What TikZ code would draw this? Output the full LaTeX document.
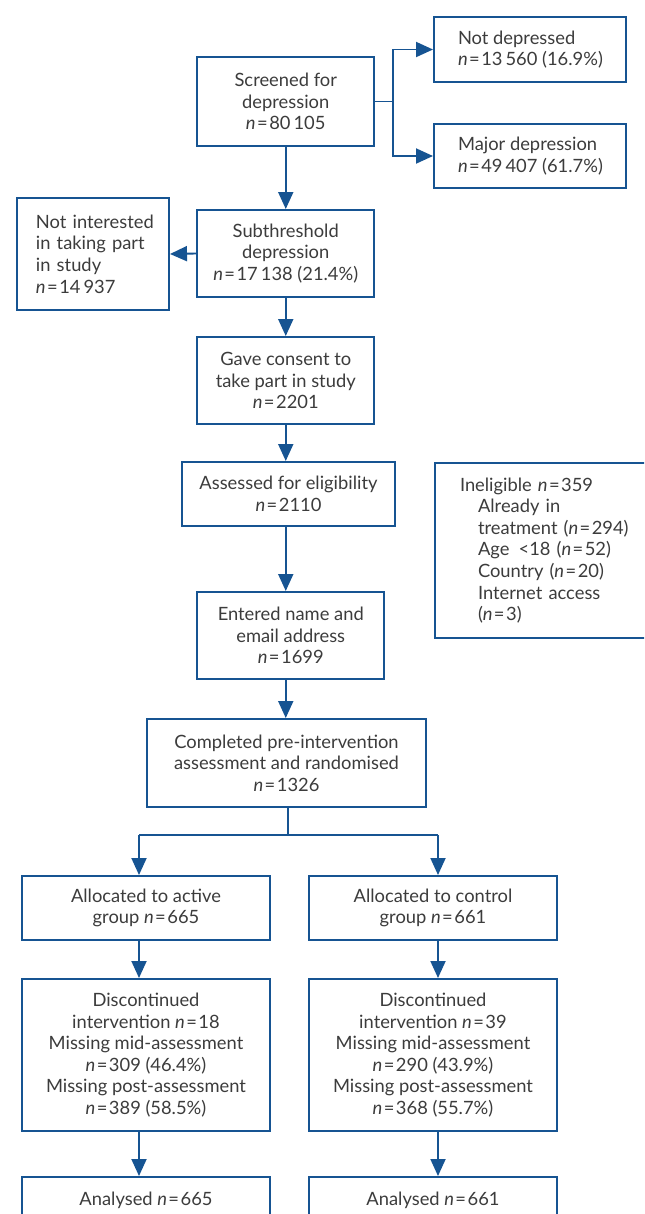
\documentclass[tikz,border=0pt]{standalone}
\usepackage{fontspec}
\setmainfont{Lato}
\usetikzlibrary{arrows.meta}
\definecolor{flowblue}{RGB}{22,84,146}
\definecolor{txtgray}{RGB}{60,60,60}
\newcommand{\Nq}{\textit{n}\kern1pt=\kern1.2pt}
\tikzset{
  box/.style={draw=flowblue, line width=1.5pt, inner sep=0pt, align=center,
    text=txtgray, font=\fontsize{13.75}{16.2}\selectfont, fill=white},
  lbox/.style={box, align=left},
  link/.style={draw=flowblue, line width=1.4pt},
  arr/.style={link, -{Triangle[length=12.75pt,width=11.25pt]}}
}
\begin{document}
\begin{tikzpicture}[x=0.75pt,y=-0.75pt]
\useasboundingbox (0,0) rectangle (644,1214);
\fill[white] (0,0) rectangle (644,1214);
\clip (0,0) rectangle (644,1214);

\node[box, minimum width=132.4pt, minimum height=66.75pt] (scr) at (285.75,101.5)
  {Screened for\\depression\\\Nq 80\,105};
\node[box, minimum width=144pt, minimum height=48.75pt, align=left] (nd) at (530,49.5)
  {\makebox[108pt][l]{Not depressed}\\\makebox[108pt][l]{\Nq 13\,560 (16.9\%)}};
\node[box, minimum width=144pt, minimum height=48pt, align=left] (md) at (530,156)
  {\makebox[108pt][l]{Major depression}\\\makebox[108pt][l]{\Nq 49\,407 (61.7\%)}};
\node[lbox, minimum width=114pt, minimum height=84pt, text width=85.5pt, inner xsep=14.25pt] (ni) at (93,254)
  {\mbox{Not interested}\\\mbox{in taking part}\\\mbox{in study}\\\mbox{\Nq 14\,937}};
\node[box, minimum width=132.4pt, minimum height=65.25pt] (sub) at (285.75,253.5)
  {Subthreshold\\depression\\\Nq 17\,138 (21.4\%)};
\node[box, minimum width=132.4pt, minimum height=65.25pt] (gc) at (285.75,380.5)
  {Gave consent to\\take part in study\\\Nq 2201};
\node[box, minimum width=159.75pt, minimum height=48pt] (ae) at (288.5,494)
  {Assessed for eligibility\\\Nq 2110};
\node[lbox, anchor=north west, minimum height=131.25pt, text width=165pt, inner xsep=18.75pt] (inel) at (434,462)
  {Ineligible \Nq 359\\
   \hspace*{13.5pt}Already in\\
   \hspace*{13.5pt}treatment (\Nq 294)\\
   \hspace*{13.5pt}Age \,<18 (\Nq 52)\\
   \hspace*{13.5pt}Country (\Nq 20)\\
   \hspace*{13.5pt}Internet access\\
   \hspace*{13.5pt}(\Nq 3)};
\node[box, minimum width=139.9pt, minimum height=65.25pt] (en) at (290.75,635.5)
  {Entered name and\\email address\\\Nq 1699};
\node[box, minimum width=209.25pt, minimum height=66pt] (comp) at (286.5,763)
  {Completed pre-intervention\\assessment and randomised\\\Nq 1326};
\node[box, minimum width=186pt, minimum height=48pt] (aa) at (146,908)
  {Allocated to active\\group \Nq 665};
\node[box, minimum width=186pt, minimum height=48pt] (ac) at (433,908)
  {Allocated to control\\group \Nq 661};
\node[box, minimum width=186pt, minimum height=114pt] (da) at (146,1055)
  {Discontinued\\intervention \Nq 18\\Missing mid-assessment\\\Nq 309 (46.4\%)\\Missing post-assessment\\\Nq 389 (58.5\%)};
\node[box, minimum width=186pt, minimum height=114pt] (dc) at (433,1055)
  {Discontinued\\intervention \Nq 39\\Missing mid-assessment\\\Nq 290 (43.9\%)\\Missing post-assessment\\\Nq 368 (55.7\%)};
\node[box, minimum width=186pt, minimum height=34.5pt] (ana) at (146,1200)
  {Analysed \Nq 665};
\node[box, minimum width=186pt, minimum height=34.5pt] (anc) at (433,1200)
  {Analysed \Nq 661};

% connectors
\coordinate (br) at (393,101.5);
\draw[link] (scr.east) -- (br);
\draw[arr] (br) |- (nd.west);
\draw[arr] (br) |- (md.west);
\draw[arr] (scr.south) -- (sub.north);
\draw[arr] (sub.west) -- (ni.east);
\draw[arr] (sub.south) -- (gc.north);
\draw[arr] (gc.south) -- (gc.south |- ae.north);
\draw[arr] (ae.south -| scr.south) -- (en.north -| scr.south);
\draw[arr] (en.south -| scr.south) -- (comp.north -| scr.south);
\coordinate (split) at (288,835);
\coordinate (ta) at (139,835);
\coordinate (tc) at (438,835);
\draw[link] (comp.south -| split) -- (split);
\draw[link] (ta) -- (tc);
\draw[arr] (ta) -- (ta |- aa.north);
\draw[arr] (tc) -- (tc |- ac.north);
\draw[arr] (aa.south -| ta) -- (da.north -| ta);
\draw[arr] (ac.south -| tc) -- (dc.north -| tc);
\draw[arr] (da.south -| ta) -- (ana.north -| ta);
\draw[arr] (dc.south -| tc) -- (anc.north -| tc);
\end{tikzpicture}
\end{document}
